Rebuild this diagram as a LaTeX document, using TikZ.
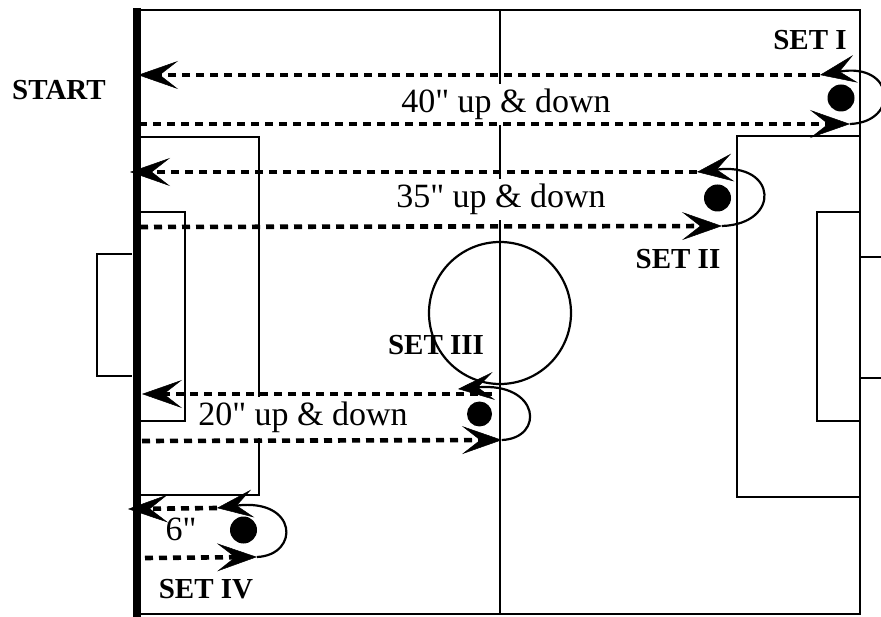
\documentclass[tikz,border=0pt]{standalone}
\usepackage{fontspec}
\setmainfont{Liberation Serif}
\usetikzlibrary{arrows.meta}

\tikzset{
	pitch/.style={line width=2.2pt},
	run/.style={line width=4.6pt, dash pattern=on 8pt off 6pt,
		-{Stealth[length=40pt,width=28pt,inset=18pt,line width=0.5pt]}},
	turn/.style={line width=2.2pt,
		-{Stealth[length=36pt,width=28pt,inset=16pt,line width=0.5pt]}},
	ball/.style={circle, fill=black, minimum size=27pt, inner sep=0pt},
	runlabel/.style={fill=white, font=\fontsize{34}{36}\selectfont, anchor=base, inner sep=5pt},
	setlabel/.style={font=\fontsize{29}{32}\selectfont\bfseries, anchor=base, inner sep=0pt}
}

\begin{document}
\begin{tikzpicture}[x=1pt,y=-1pt]
\useasboundingbox (0,0) rectangle (881,617);

\draw[pitch] (141,10) -- (860,10) -- (860,614) -- (141,614);
\draw[pitch] (500,10) -- (500,614);
\draw[pitch] (500,313) circle[radius=71pt];
\draw[pitch] (141,137) -- (259,137) -- (259,495) -- (141,495);
\draw[pitch] (141,212) -- (185,212) -- (185,421) -- (141,421);
\draw[pitch] (132,254) -- (97,254) -- (97,376) -- (132,376);
\draw[pitch] (860,136) -- (737,136) -- (737,497) -- (860,497);
\draw[pitch] (860,212) -- (817,212) -- (817,421) -- (860,421);
\draw[pitch] (860,257) -- (890,257);
\draw[pitch] (860,378) -- (890,378);
\draw[line width=8pt] (136.5,8) -- (136.5,617);

\node[runlabel] (txtI) at (506,113) {40\textquotedbl{} up \& down};
\node[runlabel] (txtII) at (501,208) {35\textquotedbl{} up \& down};
\node[runlabel] (txtIII) at (303,426) {20\textquotedbl{} up \& down};
\node[font=\fontsize{34}{36}\selectfont, anchor=base, inner sep=0pt] (txtIV) at (181,540) {6\textquotedbl};

\node[setlabel] (start) at (59,100) {START};
\node[setlabel] (setI) at (810,50) {SET I};
\node[setlabel] (setII) at (678,269) {SET II};
\node[setlabel] (setIII) at (436,355) {SET III};
\node[setlabel] (setIV) at (206,598) {SET IV};

\node[ball] (ballI) at (841,98) {};
\node[ball] (ballII) at (717.5,198) {};
\node[ball, minimum size=25pt] (ballIII) at (479.5,414) {};
\node[ball] (ballIV) at (243.5,530) {};

\coordinate (outI) at (139,124);
\coordinate (turnI) at (850,124);
\coordinate (backI) at (820,75);
\coordinate (homeI) at (138,75);
\draw[run] (outI) -- (turnI);
\draw[turn] (turnI) .. controls (900,122) and (895,62) .. (backI);
\draw[run] (backI) -- (homeI);

\coordinate (outII) at (140,227);
\coordinate (turnII) at (722,226);
\coordinate (backII) at (697,172);
\coordinate (homeII) at (130,172);
\draw[run] (outII) -- (turnII);
\draw[turn] (turnII) .. controls (781,224) and (778,162) .. (backII);
\draw[run] (backII) -- (homeII);

\coordinate (outIII) at (142,441);
\coordinate (turnIII) at (502,440);
\coordinate (backIII) at (458,389);
\coordinate (topIII) at (492,394);
\coordinate (homeIII) at (142,394);
\draw[run] (outIII) -- (turnIII);
\draw[turn] (turnIII) .. controls (545,438) and (540,382) .. (backIII);
\draw[run] (topIII) -- (homeIII);

\coordinate (outIV) at (145,558);
\coordinate (turnIV) at (257,557);
\coordinate (backIV) at (217,508);
\coordinate (homeIV) at (128,509);
\draw[run] (outIV) -- (turnIV);
\draw[turn] (turnIV) .. controls (300,555) and (298,498) .. (backIV);
\draw[run] (backIV) -- (homeIV);
\end{tikzpicture}
\end{document}
